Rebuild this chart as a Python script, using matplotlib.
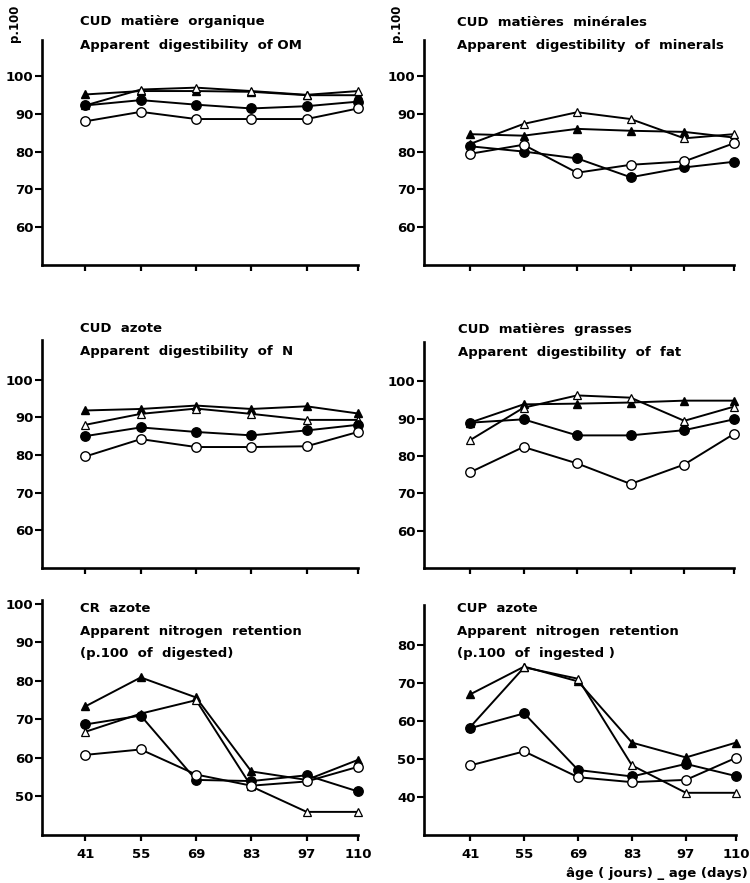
import matplotlib
matplotlib.use("Agg")
import matplotlib.pyplot as plt

ages = [41, 55, 69, 83, 97, 110]

# CUD matière organique
om_tri_f = [95.1, 96.0, 96.0, 95.8, 94.9, 94.9]
om_tri_o = [92.2, 96.4, 96.9, 96.0, 95.0, 96.0]
om_circ_f = [92.2, 93.6, 92.4, 91.4, 92.0, 93.2]
om_circ_o = [88.0, 90.5, 88.6, 88.6, 88.6, 91.4]

# CUD matières minérales
min_tri_f = [84.6, 84.2, 86.0, 85.5, 85.2, 83.7]
min_tri_o = [82.0, 87.3, 90.4, 88.6, 83.5, 84.6]
min_circ_f = [81.4, 80.0, 78.2, 73.2, 75.8, 77.3]
min_circ_o = [79.4, 81.8, 74.4, 76.5, 77.4, 82.2]

# CUD azote
n_tri_f = [91.8, 92.2, 93.1, 92.2, 92.9, 91.0]
n_tri_o = [88.0, 90.9, 92.3, 90.9, 89.3, 89.3]
n_circ_f = [85.0, 87.3, 86.1, 85.2, 86.5, 88.0]
n_circ_o = [79.6, 84.2, 82.1, 82.1, 82.3, 86.1]

# CUD matières grasses
fat_tri_f = [88.9, 93.8, 94.0, 94.3, 94.8, 94.8]
fat_tri_o = [84.2, 92.9, 96.2, 95.6, 89.4, 93.2]
fat_circ_f = [88.9, 89.8, 85.5, 85.5, 86.9, 89.8]
fat_circ_o = [75.6, 82.4, 78.0, 72.5, 77.7, 85.9]

# CR azote
cr_tri_f = [73.4, 80.9, 75.7, 56.5, 54.3, 59.5]
cr_tri_o = [66.8, 71.5, 75.0, 52.6, 46.0, 46.0]
cr_circ_f = [68.7, 71.0, 54.3, 54.0, 55.5, 51.3]
cr_circ_o = [60.8, 62.2, 55.7, 52.8, 53.9, 57.7]

# CUP azote
cup_tri_f = [67.0, 74.3, 70.4, 54.3, 50.4, 54.3]
cup_tri_o = [58.4, 74.1, 71.1, 48.3, 41.1, 41.1]
cup_circ_f = [58.1, 62.0, 47.1, 45.4, 48.7, 45.5]
cup_circ_o = [48.3, 52.0, 45.2, 43.9, 44.5, 50.3]

titles = [
    ["CUD  matière  organique", "Apparent  digestibility  of OM"],
    ["CUD  matières  minérales", "Apparent  digestibility  of  minerals"],
    ["CUD  azote", "Apparent  digestibility  of  N"],
    ["CUD  matières  grasses", "Apparent  digestibility  of  fat"],
    ["CR  azote", "Apparent  nitrogen  retention", "(p.100  of  digested)"],
    ["CUP  azote", "Apparent  nitrogen  retention", "(p.100  of  ingested )"],
]

W, H = 750, 883
fig = plt.figure(figsize=(W / 100, H / 100), dpi=100)
plt.rcParams['font.family'] = ['DejaVu Sans']

# (left px, top px, right px, bottom px, ylim, yticks, title x px, title y px)
panels = [
    (42, 40, 358, 265, (50, 109.5), [60, 70, 80, 90, 100], 80, 22,
     [om_tri_f, om_tri_o, om_circ_f, om_circ_o]),
    (424, 40, 734, 265, (50, 109.5), [60, 70, 80, 90, 100], 457, 22,
     [min_tri_f, min_tri_o, min_circ_f, min_circ_o]),
    (42, 340, 358, 568, (50, 110.5), [60, 70, 80, 90, 100], 80, 328,
     [n_tri_f, n_tri_o, n_circ_f, n_circ_o]),
    (424, 342, 734, 568, (50, 110.5), [60, 70, 80, 90, 100], 458, 330,
     [fat_tri_f, fat_tri_o, fat_circ_f, fat_circ_o]),
    (42, 600, 358, 835, (40, 101), [50, 60, 70, 80, 90, 100], 80, 608,
     [cr_tri_f, cr_tri_o, cr_circ_f, cr_circ_o]),
    (424, 605, 736, 835, (30, 90.5), [40, 50, 60, 70, 80], 457, 608,
     [cup_tri_f, cup_tri_o, cup_circ_f, cup_circ_o]),
]

styles = [
    dict(marker='^', ms=5.5, mfc='black', mec='black'),
    dict(marker='^', ms=5.5, mfc='white', mec='black', mew=0.9),
    dict(marker='o', ms=6.8, mfc='black', mec='black'),
    dict(marker='o', ms=6.8, mfc='white', mec='black', mew=1.0),
]

for i, (l, t, r, b, ylim, yt, tx, ty, series) in enumerate(panels):
    ax = fig.add_axes([l / W, 1 - b / H, (r - l) / W, (b - t) / H])
    xmin = 30 if l < 300 else 29
    for vals, st in zip(series, styles):
        ax.plot(ages, vals, color='black', lw=1.4, zorder=3, clip_on=False, **st)
    ax.set_xlim(xmin, 110)
    ax.set_ylim(*ylim)
    ax.set_yticks(yt)
    ax.set_xticks(ages)
    for s in ['top', 'right']:
        ax.spines[s].set_visible(False)
    for s in ['left', 'bottom']:
        ax.spines[s].set_linewidth(1.9)
    ax.tick_params(axis='y', direction='out', length=5, width=1.5, pad=1,
                   labelsize=9.5)
    ax.tick_params(axis='x', direction='out', length=4.5, width=1.6, pad=5,
                   labelsize=9.5)
    for lbl in ax.get_yticklabels() + ax.get_xticklabels():
        lbl.set_fontweight('bold')
    if i < 4:
        ax.set_xticklabels([])
    if i < 2:
        fig.text((l - 27) / W, 1 - 23 / H, "p.100", rotation=90, ha='center',
                 va='center', fontsize=8.5, fontweight='bold')
    for k, line in enumerate(titles[i]):
        fig.text(tx / W, 1 - (ty + 23 * k) / H, line, ha='left', va='center',
                 fontsize=9.5, fontweight='bold')

fig.text(748 / W, 1 - 874 / H, "âge ( jours) _ age (days)", ha='right',
         va='center', fontsize=9.5, fontweight='bold')

fig.savefig("out.png", dpi=100, facecolor='white')
